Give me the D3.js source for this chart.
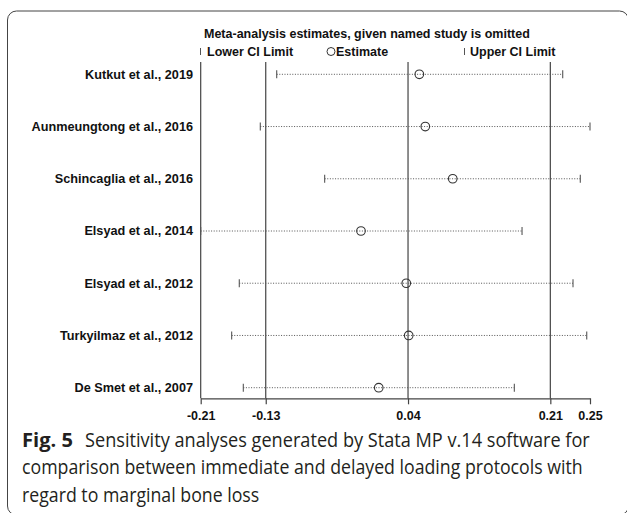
<!DOCTYPE html>
<html><head><meta charset="utf-8">
<script src="https://cdn.jsdelivr.net/npm/d3@7"></script>
<style>body{margin:0;background:#fff}svg{display:block}</style>
</head><body>
<svg id="c" width="627" height="513"></svg>
<script>
const studies = ["Kutkut et al., 2019","Aunmeungtong et al., 2016","Schincaglia et al., 2016","Elsyad et al., 2014","Elsyad et al., 2012","Turkyilmaz et al., 2012","De Smet et al., 2007"];
const estimate = [0.0510, 0.0581, 0.0909, -0.0187, 0.0354, 0.0383, 0.0025];
const lowerCI  = [-0.1194, -0.1390, -0.0621, -0.2102, -0.1641, -0.1732, -0.1593];
const upperCI  = [0.2223, 0.2549, 0.2433, 0.1737, 0.2346, 0.2510, 0.1645];
const tickValues = [-0.2102, -0.1325, 0.0375, 0.2075, 0.2549];
const tickLabels = ["-0.21", "-0.13", "0.04", "0.21", "0.25"];
const refLines = [-0.1325, 0.0375, 0.2075];
const legendTitle = "Meta-analysis estimates, given named study is omitted";
const captionBold = "Fig. 5";
const captionLines = ["Sensitivity analyses generated by Stata MP v.14 software for",
  "comparison between immediate and delayed loading protocols with",
  "regard to marginal bone loss"];

const svg = d3.select("#c");
const x = d3.scaleLinear().domain([tickValues[0], tickValues[4]]).range([200.7, 590]);
const y = d3.scalePoint().domain(studies).range([74.3, 387.7]);
const plotTop = 62, axisY = 398.3;
const F = "'Liberation Sans', Arial, sans-serif";

// frame
svg.append("rect").attr("x",7.5).attr("y",11).attr("width",621).attr("height",504)
  .attr("rx",9).attr("fill","none").attr("stroke","#444").attr("stroke-width",1);

// legend
svg.append("text").attr("x",204).attr("y",37.5).attr("font-family",F).attr("font-weight","bold")
  .attr("font-size",12.5).attr("fill","#111").text(legendTitle);
const lg = svg.append("g").attr("font-family",F).attr("font-weight","bold").attr("font-size",12.5).attr("fill","#111");
lg.append("line").attr("x1",200.5).attr("x2",200.5).attr("y1",48).attr("y2",55).attr("stroke","#555");
lg.append("text").attr("x",207).attr("y",55.5).text("Lower CI Limit");
lg.append("circle").attr("cx",331).attr("cy",51.5).attr("r",4).attr("fill","none").attr("stroke","#333");
lg.append("text").attr("x",336).attr("y",55.5).text("Estimate");
lg.append("line").attr("x1",464.5).attr("x2",464.5).attr("y1",48).attr("y2",55).attr("stroke","#555");
lg.append("text").attr("x",470).attr("y",55.5).text("Upper CI Limit");

// reference lines
svg.selectAll(".ref").data(refLines).enter().append("line")
  .attr("x1",d=>x(d)).attr("x2",d=>x(d)).attr("y1",plotTop).attr("y2",axisY)
  .attr("stroke","#444").attr("stroke-width",1.2);
// y axis line
svg.append("line").attr("x1",x(tickValues[0])).attr("x2",x(tickValues[0])).attr("y1",plotTop).attr("y2",axisY)
  .attr("stroke","#444").attr("stroke-width",1.2);

// x axis
const xAxis = d3.axisBottom(x).tickValues(tickValues).tickFormat((d,i)=>tickLabels[i]).tickSize(6).tickSizeOuter(0);
const ax = svg.append("g").attr("transform",`translate(0,${axisY})`).call(xAxis);
ax.select(".domain").attr("stroke","#444").attr("stroke-width",1.2);
ax.selectAll(".tick line").attr("stroke","#444").attr("stroke-width",1.2);
ax.selectAll(".tick text").attr("font-family",F).attr("font-weight","bold").attr("font-size",12.5)
  .attr("fill","#111").attr("dy","1.05em");

// rows
const rows = studies.map((s,i)=>({s, e:estimate[i], l:lowerCI[i], u:upperCI[i]}));
const g = svg.append("g");
g.selectAll(".ci").data(rows).enter().append("line")
  .attr("x1",d=>x(d.l)).attr("x2",d=>x(d.u)).attr("y1",d=>y(d.s)).attr("y2",d=>y(d.s))
  .attr("stroke","#555").attr("stroke-width",1).attr("stroke-dasharray","1,1.6");
g.selectAll(".lc").data(rows).enter().append("line")
  .attr("x1",d=>x(d.l)).attr("x2",d=>x(d.l)).attr("y1",d=>y(d.s)-4).attr("y2",d=>y(d.s)+4)
  .attr("stroke","#555").attr("stroke-width",1.1);
g.selectAll(".uc").data(rows).enter().append("line")
  .attr("x1",d=>x(d.u)).attr("x2",d=>x(d.u)).attr("y1",d=>y(d.s)-4).attr("y2",d=>y(d.s)+4)
  .attr("stroke","#555").attr("stroke-width",1.1);
g.selectAll(".pt").data(rows).enter().append("circle")
  .attr("cx",d=>x(d.e)).attr("cy",d=>y(d.s)).attr("r",4.3)
  .attr("fill","none").attr("stroke","#333").attr("stroke-width",1.1);

// y labels
svg.selectAll(".yl").data(studies).enter().append("text")
  .attr("x",193).attr("y",d=>y(d)).attr("dy","0.35em").attr("text-anchor","end")
  .attr("font-family",F).attr("font-weight","bold").attr("font-size",12.7).attr("fill","#111").text(d=>d);

// caption (horizontally condensed to match the original typeface's width)
const CF = "'Open Sans', 'Noto Sans', sans-serif";
const cap = svg.append("g").attr("font-family",CF).attr("font-size",19.5).attr("fill","#231f20");
function capLine(txt, x0, y0, bold) {
  const t = cap.append("text").attr("x",0).attr("y",0).text(txt);
  if (bold) t.attr("font-weight","bold");
  return {t, x0, y0, w: t.node().getComputedTextLength()};
}
const cb = capLine(captionBold, 22, 446.5, true);
const c1 = capLine(captionLines[0], 85, 446.5);
const c2 = capLine(captionLines[1], 22, 474);
const c3 = capLine(captionLines[2], 22, 501.5);
const k = 561 / c2.w;
const place = (o, s) => o.t.attr("transform", `translate(${o.x0},${o.y0}) scale(${s},1)`);
place(cb, 51 / cb.w);
place(c1, 505 / c1.w);
place(c2, k);
place(c3, k);
</script>
</body></html>
